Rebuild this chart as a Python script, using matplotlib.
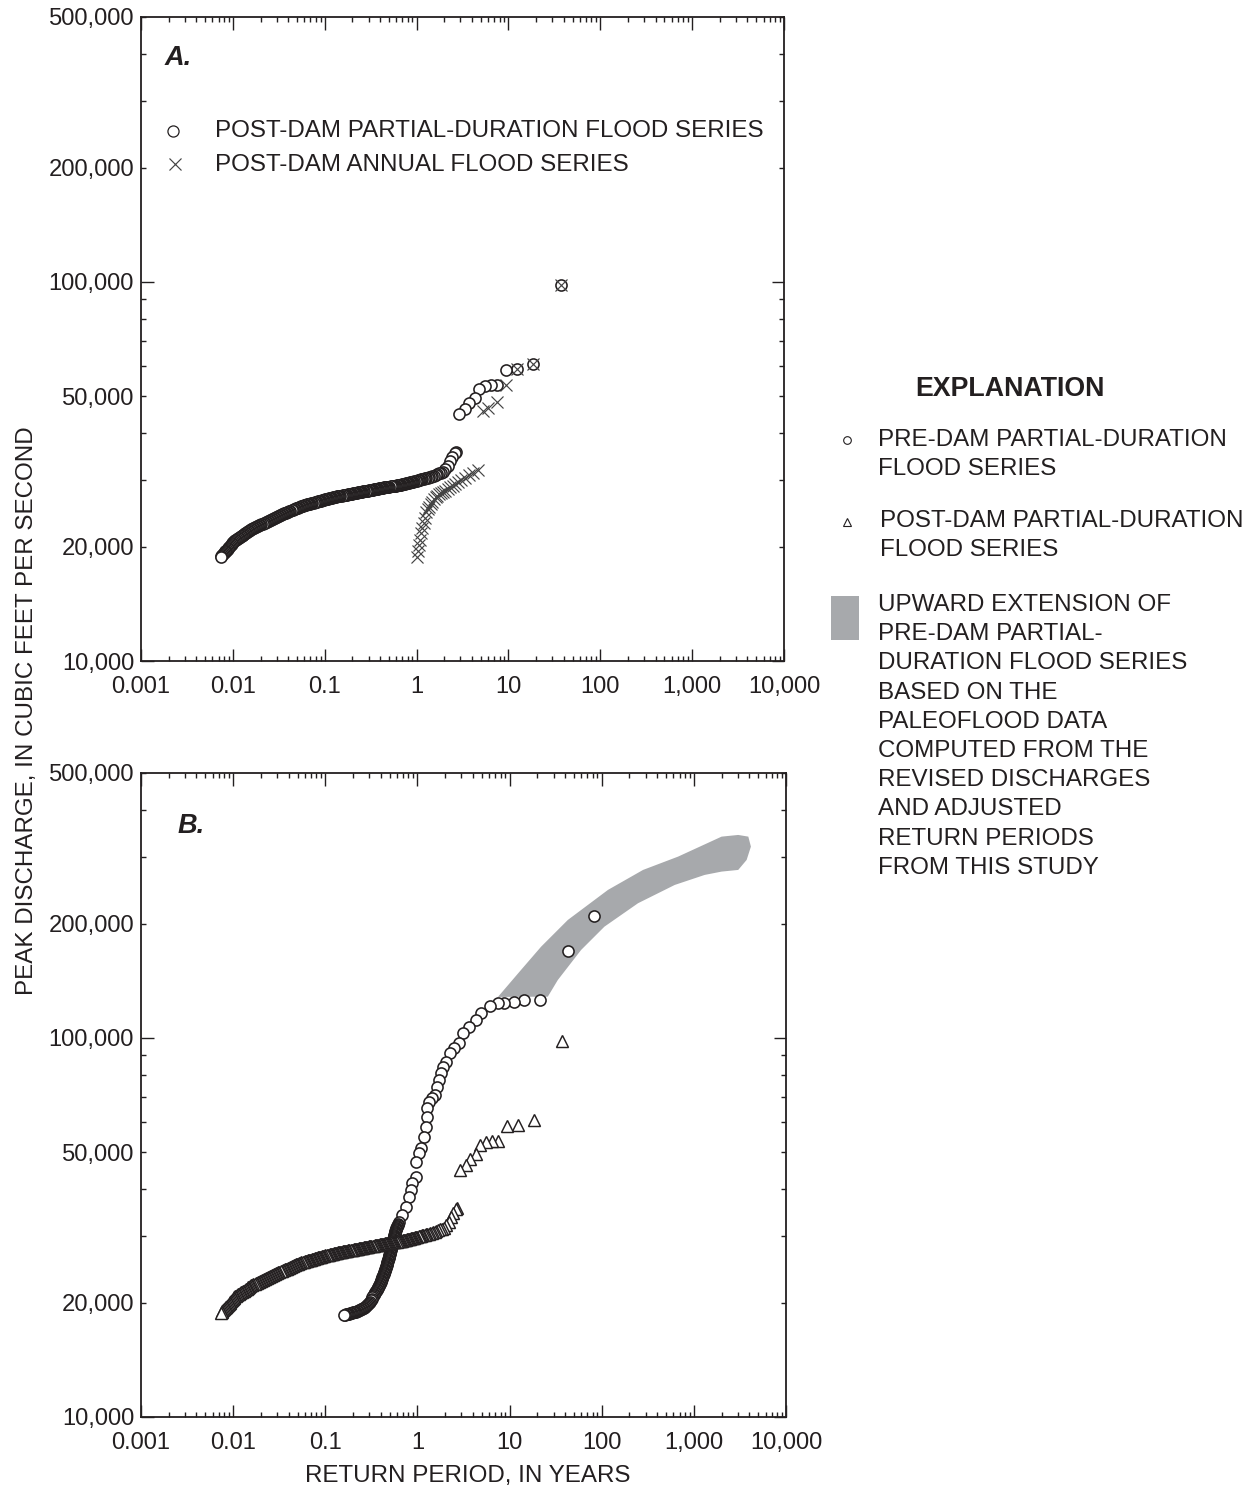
import matplotlib
matplotlib.use('Agg')
import matplotlib.pyplot as plt
from matplotlib.ticker import FixedLocator, FixedFormatter, FuncFormatter, NullFormatter
from matplotlib.patches import Polygon, Rectangle
from matplotlib.lines import Line2D

plt.rcParams['font.family'] = ['Liberation Sans', 'DejaVu Sans']

INK = '#231f20'
GREY = '#a7a9ac'
FS = 17.4
TFS = 17.1

# ---------------- data ----------------
# Post-dam partial-duration flood series (return period, yr ; peak discharge, cfs)
post_pd_T = [
    0.00736, 0.00751, 0.00766, 0.00781, 0.00796, 0.00812, 0.00828, 0.00844, 0.00861, 0.00878,
    0.00895, 0.00913, 0.00931, 0.00949, 0.00968, 0.00989, 0.0101,
    0.01033, 0.01057, 0.01082, 0.01107, 0.01134, 0.01161, 0.01188, 0.01216, 0.01245, 0.01274,
    0.01304, 0.01334, 0.01367, 0.0140, 0.01433, 0.01466, 0.0150, 0.01535,
    0.01576, 0.01618, 0.01661, 0.01706, 0.0175, 0.01795, 0.01843, 0.01892, 0.01943, 0.01995,
    0.02049, 0.02104, 0.02158, 0.02213, 0.02272, 0.02333,
    0.02395, 0.02458, 0.02522, 0.02588, 0.02656, 0.02726, 0.02798, 0.02871, 0.02946, 0.03024,
    0.03103, 0.03184, 0.03268, 0.03354, 0.03442, 0.03532,
    0.03627, 0.03724, 0.03824, 0.03926, 0.04027, 0.0413, 0.04241, 0.04355, 0.04472, 0.04592,
    0.04715, 0.04842, 0.04966, 0.05093, 0.0523, 0.0537,
    0.05514, 0.05662, 0.05814, 0.0597, 0.06124, 0.06281, 0.06449, 0.06622, 0.068, 0.06982,
    0.0717, 0.07362, 0.07551, 0.07745, 0.07953, 0.08166,
    0.08381, 0.08602, 0.08827, 0.09057, 0.09295, 0.09539, 0.09791, 0.1005, 0.1031, 0.1058,
    0.1086, 0.1114, 0.1144, 0.1174, 0.1205, 0.1236,
    0.1269, 0.1303, 0.1338, 0.1374, 0.1409, 0.1445, 0.1484, 0.1524, 0.1565, 0.1607,
    0.165, 0.1694, 0.1737, 0.1782, 0.183, 0.1879,
    0.193, 0.1982, 0.2035, 0.2089, 0.2143, 0.2198, 0.2257, 0.2317, 0.2379, 0.2443,
    0.2509, 0.2576, 0.2642, 0.2710, 0.2783, 0.2858,
    0.2934, 0.3013, 0.3091, 0.317, 0.3255, 0.3342, 0.3432, 0.3524, 0.3614, 0.3707,
    0.3806, 0.3908, 0.4013, 0.4121, 0.4227, 0.4335,
    0.4452, 0.4571, 0.4688, 0.4808, 0.4937, 0.507, 0.5206, 0.5346, 0.5483, 0.5623,
    0.5774, 0.5929, 0.6088, 0.6252, 0.6412, 0.6577,
    0.6753, 0.6934, 0.712, 0.7311, 0.7499, 0.7691, 0.7898, 0.811, 0.8328, 0.8551,
    0.878, 0.9016, 0.9247, 0.9484, 0.9739, 1.0,
    1.028, 1.057, 1.088, 1.121, 1.156, 1.194, 1.233, 1.276, 1.321, 1.37, 1.423,
    1.48, 1.542, 1.609, 1.682, 1.762, 1.85, 1.947,
    2.06, 2.18, 2.31, 2.45, 2.60, 2.72,
    2.91, 3.35, 3.74, 4.31, 4.76, 5.5, 6.4, 7.5, 9.3, 12.4, 18.6, 37.2]
post_pd_Q = [
    18770, 18880, 19000, 19110, 19230, 19340, 19450, 19560, 19680, 19800,
    19920, 20040, 20160, 20270, 20390, 20510, 20640,
    20720, 20800, 20880, 20970, 21050, 21140, 21220, 21310, 21390, 21470,
    21550, 21640, 21720, 21810, 21900, 21990, 22070, 22160,
    22230, 22300, 22370, 22440, 22510, 22580, 22650, 22730, 22800, 22870,
    22940, 23010, 23080, 23160, 23230, 23310,
    23380, 23450, 23510, 23580, 23650, 23720, 23790, 23860, 23930, 24010,
    24070, 24140, 24210, 24290, 24360, 24430,
    24500, 24570, 24630, 24700, 24770, 24840, 24910, 24980, 25050, 25120,
    25190, 25260, 25330, 25400, 25470, 25540,
    25590, 25640, 25680, 25730, 25780, 25830, 25880, 25930, 25980, 26030,
    26070, 26120, 26170, 26230, 26270, 26320,
    26360, 26410, 26450, 26500, 26540, 26590, 26630, 26680, 26720, 26770,
    26810, 26850, 26900, 26950, 26990, 27030,
    27060, 27100, 27130, 27170, 27200, 27240, 27270, 27310, 27340, 27370,
    27400, 27440, 27470, 27510, 27540, 27580,
    27610, 27650, 27680, 27720, 27750, 27790, 27820, 27860, 27890, 27930,
    27960, 28000, 28030, 28070, 28100, 28140,
    28170, 28200, 28230, 28270, 28300, 28330, 28360, 28400, 28430, 28460,
    28490, 28530, 28560, 28590, 28620, 28660,
    28690, 28720, 28750, 28780, 28810, 28840, 28870, 28900, 28920, 28950,
    28980, 29010, 29040, 29070, 29100, 29130,
    29170, 29220, 29270, 29320, 29360, 29410, 29460, 29510, 29560, 29610,
    29660, 29710, 29750, 29800, 29850, 29900,
    29960, 30010, 30070, 30130, 30200, 30270, 30330, 30400, 30480, 30550, 30630,
    30710, 30820, 30960, 31110, 31260, 31420, 31590,
    32160, 32750, 33600, 34500, 35300, 35700,
    44850, 46150, 48030, 49330, 52110, 53170, 53490, 53490, 58600, 58850, 60760, 98200]

# Post-dam annual flood series
post_annual_T = [1.0, 1.028, 1.057, 1.088, 1.121, 1.156, 1.194, 1.233, 1.276, 1.321, 1.37,
                 1.423, 1.48, 1.542, 1.609, 1.682, 1.762, 1.85, 1.947, 2.056, 2.176, 2.3125,
                 2.467, 2.643, 2.846, 3.083, 3.364, 3.7, 4.111, 4.625,
                 5.30, 6.01, 7.42, 9.5, 12.4, 18.6, 37.2]
post_annual_Q = [18800, 19510, 20240, 20860, 21760, 22440, 23130, 23840, 24720, 25180, 25560,
                 25950, 26350, 26750, 27080, 27310, 27500, 27700, 27920, 28120, 28450, 28730,
                 29030, 29340, 29700, 30090, 30450, 30860, 31330, 31920,
                 45760, 46430, 48330, 53490, 58850, 60760, 98200]

# Pre-dam partial-duration flood series
pre_pd_T = [
    0.1590, 0.1624, 0.1659, 0.1701, 0.1744, 0.1789, 0.1834, 0.1880, 0.1928, 0.1976,
    0.2026, 0.2078, 0.2131, 0.2185, 0.2240, 0.2297, 0.2356, 0.2416, 0.2477, 0.2539,
    0.2603, 0.2670, 0.2738, 0.2807, 0.2878, 0.2952, 0.3027, 0.3104, 0.3182, 0.3242,
    0.3303, 0.3357, 0.3412, 0.3455, 0.3499, 0.3548, 0.3597, 0.3642, 0.3688, 0.3735,
    0.3782, 0.3835, 0.3888, 0.3937, 0.3987, 0.4022, 0.4058, 0.4093, 0.4129, 0.4165,
    0.4202, 0.4244, 0.4287, 0.4325, 0.4363, 0.4402, 0.4441, 0.4480, 0.4519, 0.4553,
    0.4588, 0.4622, 0.4657, 0.4692, 0.4728, 0.4763, 0.4799, 0.4835, 0.4872, 0.4902,
    0.4933, 0.4964, 0.4995, 0.5026, 0.5058, 0.5090, 0.5122, 0.5154, 0.5186, 0.5218,
    0.5251, 0.5284, 0.5317, 0.5350, 0.5384, 0.5418, 0.5452, 0.5486, 0.5521, 0.5555,
    0.5590, 0.5625, 0.5661, 0.5696, 0.5732, 0.5768, 0.5804, 0.5863, 0.5923, 0.5983,
    0.6043, 0.6104, 0.6165,
    0.630, 0.687, 0.746, 0.810, 0.846, 0.882, 0.958, 0.958, 1.041, 1.086, 1.18, 1.231,
    1.262, 1.285, 1.337, 1.456, 1.543, 1.651, 1.718, 1.793, 1.918, 2.032, 2.263, 2.50,
    2.84, 3.09, 3.64, 4.31, 4.88, 6.17, 7.42, 8.76, 11.3, 14.5, 21.6, 43.5, 82.2]
pre_pd_Q = [
    18580, 18610, 18640, 18680, 18710, 18740, 18780, 18810, 18840, 18880,
    18910, 18940, 18980, 19010, 19050, 19100, 19160, 19230, 19300, 19370,
    19440, 19510, 19580, 19690, 19810, 19990, 20170, 20350, 20540, 20700,
    20860, 20980, 21110, 21240, 21370, 21500, 21630, 21760, 21900, 22030,
    22170, 22300, 22440, 22570, 22710, 22850, 22990, 23130, 23270, 23410,
    23560, 23700, 23840, 23980, 24130, 24280, 24430, 24580, 24730, 24880,
    25030, 25180, 25330, 25480, 25640, 25800, 25960, 26110, 26270, 26430,
    26600, 26760, 26920, 27080, 27250, 27420, 27590, 27750, 27920, 28090,
    28270, 28440, 28610, 28780, 28960, 29140, 29320, 29490, 29670, 29850,
    30040, 30220, 30400, 30580, 30770, 30960, 31150, 31340, 31530, 31720,
    31910, 32100, 32300,
    32760, 34120, 35880, 38130, 39720, 41370, 43050, 47170, 49640, 51170, 54910, 58340,
    61980, 65230, 67900, 69320, 70720, 74390, 77500, 80720, 84010, 86600, 91120, 93930,
    96830, 102900, 107100, 111600, 116200, 121500, 123500, 123900, 124700, 126000, 126000,
    170000, 209900]

# Upward extension of pre-dam partial-duration series (outline of shaded band)
ext_T = [7.48, 13.3, 22.0, 42.9, 117, 281, 675, 2000, 3030, 3900, 4160, 3740, 3030,
         2000, 1310, 620, 248, 107, 59.8, 33.4, 26.0]
ext_Q = [128300, 151100, 174100, 204800, 245800, 277500, 300900, 339700, 343200, 339700,
         319700, 294900, 277500, 274700, 269200, 253300, 226700, 196600, 170700, 142200, 128500]

x_ticks = [0.001, 0.01, 0.1, 1, 10, 100, 1000, 10000]
x_tick_labels = ['0.001', '0.01', '0.1', '1', '10', '100', '1,000', '10,000']
y_major = [10000, 100000]
y_labeled = [10000, 20000, 50000, 100000, 200000, 500000]

W, H = 1257, 1491


def fx(px):
    return px / W


def fy(py):
    return 1 - py / H


fig = plt.figure(figsize=(W / 100, H / 100), dpi=100)
axA = fig.add_axes([fx(141), fy(661), 643 / W, 644 / H])
axB = fig.add_axes([fx(141), fy(1417), 645 / W, 644 / H])

y_minor = [m * 10 ** e for e in (4, 5) for m in range(2, 10) if m * 10 ** e <= 500000]
x_minor = [m * 10.0 ** e for e in range(-3, 4) for m in range(2, 10)]


def yfmt(v, pos):
    for t in y_labeled:
        if abs(v - t) / t < 1e-6:
            return f"{t:,d}"
    return ''


def style(ax):
    ax.set_xscale('log')
    ax.set_yscale('log')
    ax.set_xlim(0.001, 10000)
    ax.set_ylim(10000, 500000)
    ax.xaxis.set_major_locator(FixedLocator(x_ticks))
    ax.xaxis.set_major_formatter(FixedFormatter(x_tick_labels))
    ax.xaxis.set_minor_locator(FixedLocator(x_minor))
    ax.xaxis.set_minor_formatter(NullFormatter())
    ax.yaxis.set_major_locator(FixedLocator(y_major))
    ax.yaxis.set_minor_locator(FixedLocator(y_minor))
    ax.yaxis.set_major_formatter(FuncFormatter(yfmt))
    ax.yaxis.set_minor_formatter(FuncFormatter(yfmt))
    ax.tick_params(which='both', direction='in', top=True, right=True,
                   color=INK, labelcolor=INK, labelsize=TFS, width=1.0)
    ax.tick_params(which='major', length=9)
    ax.tick_params(which='minor', length=3.8)
    ax.tick_params(axis='x', which='both', pad=11)
    ax.tick_params(axis='y', which='both', pad=5)
    for s in ax.spines.values():
        s.set_linewidth(1.3)
        s.set_color(INK)


style(axA)
style(axB)

circ_kw = dict(ls='none', marker='o', ms=8, mfc='white', mec=INK, mew=1.15)
tri_kw = dict(ls='none', marker='^', ms=8.5, mfc='white', mec=INK, mew=1.05)
x_kw = dict(ls='none', marker='x', ms=8.5, mec='#444444', mew=0.85)

# Panel A
axA.plot(post_pd_T[::-1], post_pd_Q[::-1], **circ_kw, zorder=3)
axA.plot(post_annual_T[::-1], post_annual_Q[::-1], **x_kw, zorder=4)
axA.text(0.037, 0.936, 'A.', transform=axA.transAxes, fontsize=19.5, fontweight='bold',
         fontstyle='italic', color=INK, va='center', ha='left')

# Panel A legend
leg_circ = dict(circ_kw, mew=0.9)
fig.add_artist(Line2D([fx(173)], [fy(131)], **leg_circ))
fig.add_artist(Line2D([fx(175)], [fy(164)], **x_kw))
fig.text(fx(215), fy(131), 'POST-DAM PARTIAL-DURATION FLOOD SERIES', fontsize=FS,
         color=INK, va='center', ha='left')
fig.text(fx(215), fy(165), 'POST-DAM ANNUAL FLOOD SERIES', fontsize=FS,
         color=INK, va='center', ha='left')

# Panel B
axB.add_patch(Polygon(list(zip(ext_T, ext_Q)), closed=True, facecolor=GREY,
                      edgecolor='none', zorder=1))
axB.plot(pre_pd_T[::-1], pre_pd_Q[::-1], **circ_kw, zorder=3)
axB.plot(post_pd_T[::-1], post_pd_Q[::-1], **tri_kw, zorder=4)
axB.text(0.057, 0.918, 'B.', transform=axB.transAxes, fontsize=19.5, fontweight='bold',
         fontstyle='italic', color=INK, va='center', ha='left')

# Axis titles
fig.text(fx(27), fy(711), 'PEAK DISCHARGE, IN CUBIC FEET PER SECOND', rotation=90,
         fontsize=FS, color=INK, ha='center', va='center')
fig.text(fx(468), fy(1476), 'RETURN PERIOD, IN YEARS', fontsize=FS, color=INK,
         ha='center', va='center')

# Explanation
fig.text(fx(1010), fy(389), 'EXPLANATION', fontsize=19.3, fontweight='bold', color=INK,
         ha='center', va='center')
fig.add_artist(Line2D([fx(847)], [fy(440)], ls='none', marker='o', ms=5.5, mfc='white',
                      mec=INK, mew=0.8))
fig.add_artist(Line2D([fx(847)], [fy(522)], ls='none', marker='^', ms=6, mfc='white',
                      mec=INK, mew=0.8))
fig.add_artist(Rectangle((fx(831), fy(640)), 28 / W, 44 / H, facecolor=GREY,
                         edgecolor='none', transform=fig.transFigure))
lines1 = ['PRE-DAM PARTIAL-DURATION', 'FLOOD SERIES']
lines2 = ['POST-DAM PARTIAL-DURATION', 'FLOOD SERIES']
lines3 = ['UPWARD EXTENSION OF', 'PRE-DAM PARTIAL-', 'DURATION FLOOD SERIES',
          'BASED ON THE', 'PALEOFLOOD DATA', 'COMPUTED FROM THE', 'REVISED DISCHARGES',
          'AND ADJUSTED', 'RETURN PERIODS', 'FROM THIS STUDY']
for i, t in enumerate(lines1):
    fig.text(fx(878), fy(440 + 28.5 * i), t, fontsize=FS, color=INK, va='center', ha='left')
for i, t in enumerate(lines2):
    fig.text(fx(880), fy(521 + 29 * i), t, fontsize=FS, color=INK, va='center', ha='left')
for i, t in enumerate(lines3):
    fig.text(fx(878), fy(605 + 29.2 * i), t, fontsize=FS, color=INK, va='center', ha='left')

fig.savefig('out.png', dpi=100, facecolor='white')
